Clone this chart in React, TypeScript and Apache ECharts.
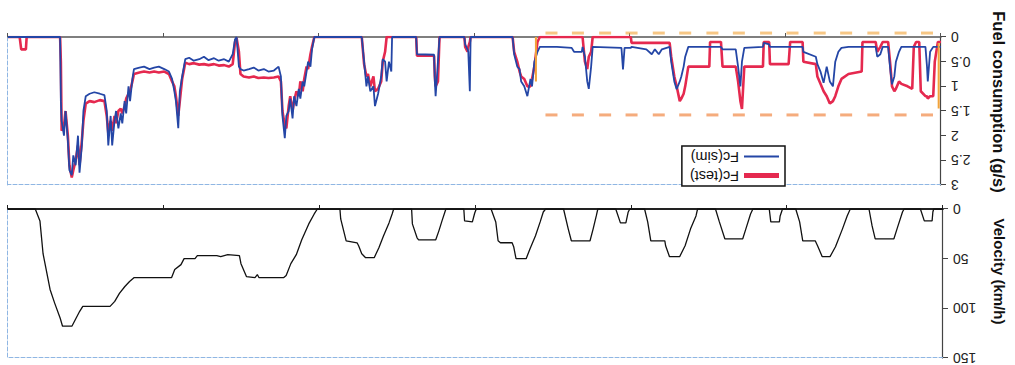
import React, { useEffect, useRef } from "react";
import * as echarts from "echarts";

// NEDC drive cycle, time in s (the reference picture is printed rotated by 180°)
const velTime = [
  0, 12, 13, 14, 24, 29,
  50, 52, 59, 63, 87, 91, 95,
  119, 123, 129, 138, 145, 155, 161, 164, 180, 184, 189,
  206, 209, 210, 221, 223,
  244, 247, 253, 257, 280, 287, 292,
  315, 317, 324, 331, 338, 351, 356, 357, 375, 379, 383,
  402, 404, 407, 414, 420,
  443, 445, 449, 453, 477, 481, 487,
  510, 513, 517, 523, 530, 535, 548, 551, 553, 568, 571, 574, 580,
  599, 601, 604, 614, 615,
  638, 643, 647, 651, 673, 675, 681, 682,
  705, 707, 711, 718, 724, 730, 741, 746, 750, 752, 766, 773, 774,
  803, 807, 814, 823, 830, 837, 843, 846, 878, 880,
  883, 894, 901, 903, 918, 927, 932, 957, 960, 974,
  978, 986, 990, 1038, 1044, 1050, 1057, 1063, 1069, 1104,
  1108, 1114, 1118, 1130, 1133, 1140, 1146, 1155, 1159, 1165, 1200,
];
const velKmh = [
  0, 0, 3, 12, 12, 0,
  0, 3, 20, 30, 30, 17, 0,
  0, 7, 20, 38, 48, 48, 37, 32, 32, 13, 0,
  0, 7, 13, 13, 0,
  0, 5, 20, 30, 30, 13, 0,
  0, 7, 20, 37, 48, 48, 37, 32, 32, 13, 0,
  0, 3, 14, 14, 0,
  0, 7, 20, 32, 32, 20, 0,
  0, 3, 13, 27, 40, 50, 50, 38, 34, 34, 32, 13, 0,
  0, 4, 13, 12, 0,
  0, 12, 22, 31, 31, 29, 15, 0,
  0, 5, 14, 27, 39, 49, 49, 45, 37, 34, 32, 10, 0,
  0, 5, 15, 31, 46, 55, 67, 69, 69, 66,
  69, 68, 55, 47, 46, 48, 47, 47, 50, 50,
  56, 61, 69, 69, 73, 78, 85, 93, 98, 98,
  103, 112, 118, 118, 110, 95, 81, 45, 12, 0, 0,
];

// Fuel consumption (g/s)
const fuelTime = [
  0, 4, 8, 10, 14, 17, 18, 20, 26, 28,
  32, 35, 37, 43, 51, 54, 58, 60, 63, 65,
  68, 75, 78, 82, 84, 101, 102, 119, 128, 132,
  136, 139, 143, 147, 151, 155, 159, 161, 177, 178,
  194, 196, 220, 221, 228, 229, 253, 256, 258, 261,
  264, 281, 283, 297, 298, 325, 329, 331, 334, 336,
  340, 343, 347, 349, 359, 363, 368, 372, 379, 398,
  399, 407, 409, 411, 448, 450, 453, 455, 458, 461,
  462, 472, 475, 494, 516, 519, 523, 526, 528, 532,
  536, 540, 542, 545, 549, 551, 605, 606, 608, 609,
  612, 613, 645, 647, 650, 651, 652, 674, 675, 706,
  707, 710, 713, 715, 718, 720, 724, 728, 730, 734,
  737, 739, 742, 745, 806, 809, 811, 814, 816, 819,
  821, 824, 826, 829, 832, 834, 837, 839, 842, 844,
  847, 849, 852, 858, 865, 871, 878, 884, 890, 897,
  901, 903, 906, 908, 911, 916, 922, 929, 935, 942,
  948, 954, 961, 967, 972, 976, 979, 981, 984, 986,
  989, 993, 999, 1006, 1012, 1018, 1025, 1031, 1038, 1040,
  1043, 1045, 1048, 1050, 1053, 1055, 1058, 1061, 1063, 1066,
  1068, 1071, 1073, 1076, 1082, 1089, 1095, 1100, 1103, 1105,
  1108, 1110, 1113, 1116, 1118, 1121, 1123, 1126, 1128, 1131,
  1132, 1133, 1176, 1177, 1183, 1185, 1200,
];
const fuelTest = [
  0.1, 0.1, 0.5, 1.2, 1.2, 1.25, 1.2, 1.2, 1.1, 0.1,
  0.1, 0.2, 1.05, 1.0, 0.95, 0.9, 1.05, 1.1, 1.0, 0.6,
  0.1, 0.1, 0.2, 0.3, 0.1, 0.1, 0.7, 0.75, 0.85, 1.0,
  1.2, 1.3, 1.35, 1.2, 1.1, 0.95, 0.8, 0.55, 0.5, 0.1,
  0.1, 0.55, 0.55, 0.1, 0.1, 0.6, 0.6, 1.46, 1.3, 0.9,
  0.6, 0.6, 0.1, 0.1, 0.6, 0.6, 1.0, 1.15, 1.25, 1.3,
  1.0, 0.8, 0.4, 0.12, 0.12, 0.12, 0.12, 0.12, 0.12, 0.12,
  0, 0, 0, 0, 0, 0.3, 0.4, 0.65, 0.5, 0,
  0, 0, 0, 0, 0, 0.1, 0.6, 0.85, 1.0, 1.0,
  0.85, 0.8, 0.7, 0.5, 0.3, 0, 0, 0.1, 0.2, 0.3,
  0.2, 0, 0, 0.9, 1.0, 0.8, 0.38, 0.38, 0, 0,
  0, 0, 0, 0.3, 0.5, 0.9, 1.05, 1.1, 0.8, 1.0,
  0.75, 0.8, 0.55, 0, 0, 0.2, 0.35, 0.65, 0.6, 0.85,
  1.1, 0.9, 1.2, 1.1, 1.3, 1.5, 1.2, 1.4, 1.85, 1.8,
  1.5, 0.9, 0.8, 0.82, 0.83, 0.82, 0.83, 0.8, 0.82, 0.8,
  0.75, 0.3, 0.02, 0.1, 0.55, 0.6, 0.57, 0.58, 0.55, 0.57,
  0.55, 0.56, 0.53, 0.55, 0.52, 0.85, 1.3, 1.6, 1.2, 1.0,
  0.9, 0.75, 0.7, 0.72, 0.7, 0.72, 0.7, 0.72, 0.75, 0.9,
  1.1, 1.15, 1.25, 1.4, 1.55, 1.45, 1.5, 1.75, 1.6, 1.9,
  1.7, 1.95, 1.6, 1.3, 1.28, 1.32, 1.3, 1.35, 1.7, 2.1,
  2.6, 2.2, 2.5, 2.7, 2.85, 2.6, 2.0, 1.5, 1.8, 1.9,
  0.5, 0, 0, 0.25, 0.25, 0, 0,
];
const fuelSim = [
  0.2, 0.2, 0.2, 0.2, 0.3, 0.9, 0.6, 0.2, 0.2, 0.2,
  0.2, 0.2, 0.2, 0.2, 0.2, 0.3, 0.5, 0.8, 0.96, 0.7,
  0.2, 0.2, 0.35, 0.4, 0.2, 0.2, 0.2, 0.2, 0.22, 0.3,
  0.5, 1.0, 0.9, 0.6, 0.93, 0.7, 0.55, 0.4, 0.3, 0.2,
  0.2, 0.2, 0.2, 0.15, 0.12, 0.2, 0.22, 0.5, 1.0, 0.6,
  0.25, 0.25, 0.2, 0.2, 0.2, 0.2, 0.4, 0.6, 0.8, 0.9,
  1.06, 0.9, 0.5, 0.2, 0.25, 0.35, 0.25, 0.35, 0.25, 0.2,
  0.22, 0.22, 0.66, 0.22, 0.2, 0.6, 1.05, 0.9, 0.4, 0.2,
  0.3, 0.3, 0.22, 0.2, 0.2, 0.3, 0.5, 1.0, 0.85, 1.2,
  1.0, 0.9, 0.65, 0.6, 0.35, 0, 0, 1.1, 0.3, 0.25,
  0.15, 0, 0, 0.5, 1.2, 0.9, 0.36, 0.35, 0, 0,
  0.7, 0.5, 0.9, 0.5, 0.45, 0.8, 1.15, 1.4, 1.0, 1.1,
  0.8, 1.0, 0.5, 0, 0, 0.25, 0.6, 0.5, 0.7, 1.0,
  0.9, 1.25, 1.05, 1.4, 1.2, 1.65, 1.25, 1.5, 1.6, 2.05,
  1.6, 0.8, 0.6, 0.68, 0.7, 0.65, 0.68, 0.62, 0.65, 0.68,
  0.65, 0.6, 0, 0.05, 0.35, 0.5, 0.45, 0.48, 0.43, 0.47,
  0.4, 0.45, 0.48, 0.42, 0.45, 0.8, 1.1, 1.85, 1.3, 1.1,
  0.85, 0.7, 0.65, 0.6, 0.62, 0.65, 0.6, 0.62, 0.65, 0.85,
  1.3, 1.0, 1.55, 1.3, 1.75, 1.55, 1.85, 1.5, 1.7, 2.2,
  1.6, 2.2, 1.5, 1.18, 1.15, 1.12, 1.15, 1.2, 1.5, 2.2,
  2.75, 2.0, 2.6, 2.4, 2.8, 2.7, 2.1, 1.5, 2.0, 1.7,
  1.3, 0, 0, 0, 0, 0, 0,
];

// faint orange label rows left over in the scan (position along time, level in g/s)
const markerTime = [18, 52, 87, 122, 156, 191, 225, 260, 294, 329, 363, 398, 432, 467, 501];
const markerLevelLow = -0.08;
const markerLevelHigh = 1.58;
// orange vertical guide strokes
const guideTime = [521, 521, null, 3, 3];
const guideValue = [0, 0.9, null, 0.12, 1.45];

const fuelTicks = { min: 0, max: 3, interval: 0.5 };
const velTicks = { min: 0, max: 150, interval: 50 };
const timeTicks = { min: 0, max: 1200, interval: 200 };

export default function App() {
  const ref = useRef<HTMLDivElement>(null);
  useEffect(() => {
    const chart = echarts.init(ref.current!, null, { renderer: "svg" });
    const font = "'Liberation Sans', Arial, sans-serif";
    const zip = (xs: (number | null)[], ys: (number | null)[]) =>
      xs.map((x, i) => (x === null || ys[i] === null ? "-" : [x, ys[i]]));

    const mainX = (gridIndex: number, color: string, width: number) => ({
      type: "value", gridIndex, ...timeTicks, position: "bottom",
      axisLine: { show: true, onZero: false, lineStyle: { color, width } },
      axisTick: { show: true, length: 4, lineStyle: { color } },
      axisLabel: { show: false }, splitLine: { show: false },
    });
    const edgeX = (gridIndex: number) => ({
      type: "value", gridIndex, ...timeTicks, position: "top",
      axisLine: { show: true, onZero: false, lineStyle: { color: "#8fb6e3", type: "dashed", width: 1 } },
      axisTick: { show: false }, axisLabel: { show: false }, splitLine: { show: false },
    });
    const mainY = (gridIndex: number, ticks: any, name: string, nameSize: number, pad: number) => ({
      type: "value", gridIndex, ...ticks, position: "left", name,
      nameLocation: "middle", nameRotate: 90, nameGap: 49,
      nameTextStyle: { fontFamily: font, fontSize: nameSize, fontWeight: "bold", color: "#111", padding: [0, pad, 0, 0] },
      axisLine: { show: true, onZero: false, lineStyle: { color: "#444", width: 1.2 } },
      axisTick: { show: true, length: 5, lineStyle: { color: "#444" } },
      axisLabel: { fontFamily: font, fontSize: 14, color: "#222", margin: 10 },
      splitLine: { show: false },
    });
    const edgeY = (gridIndex: number, ticks: any) => ({
      type: "value", gridIndex, ...ticks, position: "right",
      axisLine: { show: true, onZero: false, lineStyle: { color: "#8fb6e3", type: "dashed", width: 1 } },
      axisTick: { show: false }, axisLabel: { show: false }, splitLine: { show: false },
    });

    chart.setOption({
      animation: false,
      backgroundColor: "#fff",
      grid: [
        { left: 69, right: 8, top: 4, height: 152 },
        { left: 69, right: 8, top: 180, height: 148 },
      ],
      xAxis: [mainX(0, "#222", 1.8), edgeX(0), mainX(1, "#555", 1.5), edgeX(1)],
      yAxis: [
        mainY(0, velTicks, "Velocity (km/h)", 15, 24),
        edgeY(0, velTicks),
        mainY(1, fuelTicks, "Fuel consumption (g/s)", 16.5, 18),
        edgeY(1, fuelTicks),
      ],
      legend: {
        data: [
          { name: "Fc(test)", icon: "path://M0 0M0 2.5H35V7.5H0ZM35 10" },
          { name: "Fc(sim)", icon: "path://M0 0M0 4H35V6H0ZM35 10" },
        ],
        left: 230, top: 179, orient: "vertical",
        itemWidth: 35, itemHeight: 10, itemGap: 4,
        padding: [3, 8, 3, 6],
        borderColor: "#111", borderWidth: 1.5, backgroundColor: "#fff",
        textStyle: { fontFamily: font, fontSize: 14.5, color: "#111" },
      },
      series: [
        {
          name: "Velocity", type: "line", xAxisIndex: 0, yAxisIndex: 0,
          data: zip(velTime, velKmh), symbol: "none",
          lineStyle: { color: "#111", width: 1.3 }, itemStyle: { color: "#111" },
        },
        {
          name: "Fc(test)", type: "line", xAxisIndex: 2, yAxisIndex: 2,
          data: zip(fuelTime, fuelTest), symbol: "none",
          lineStyle: { color: "#e5294f", width: 2.6 }, itemStyle: { color: "#e5294f" },
        },
        {
          name: "Fc(sim)", type: "line", xAxisIndex: 2, yAxisIndex: 2,
          data: zip(fuelTime, fuelSim), symbol: "none",
          lineStyle: { color: "#2446a6", width: 1.8 }, itemStyle: { color: "#2446a6" },
        },
        {
          name: "guides", type: "line", xAxisIndex: 2, yAxisIndex: 2,
          data: zip(guideTime, guideValue), symbol: "none", connectNulls: false,
          lineStyle: { color: "#f2a33a", width: 2 },
        },
        {
          name: "labelsLow", type: "scatter", xAxisIndex: 2, yAxisIndex: 2, clip: false,
          data: markerTime.map((t) => [t, markerLevelLow]),
          symbol: "rect", symbolSize: [12, 3], itemStyle: { color: "#f2a944", opacity: 0.65 },
        },
        {
          name: "labelsHigh", type: "scatter", xAxisIndex: 2, yAxisIndex: 2, clip: false,
          data: markerTime.map((t) => [t, markerLevelHigh]),
          symbol: "rect", symbolSize: [12, 3], itemStyle: { color: "#ef8038", opacity: 0.65 },
        },
      ],
    });
    return () => chart.dispose();
  }, []);
  return (
    <div
      ref={ref}
      style={{
        position: "absolute", left: 0, top: 0, width: 1015, height: 365,
        transform: "rotate(180deg)", background: "#fff",
      }}
    />
  );
}
